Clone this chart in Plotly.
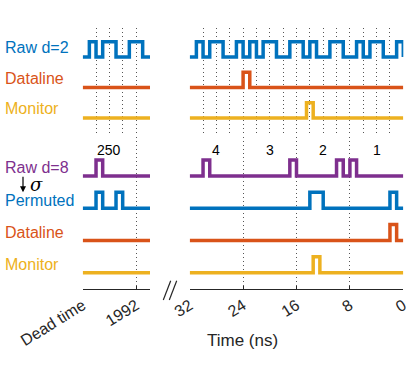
import plotly.graph_objects as go

W, H = 415, 370
FONT = "Liberation Sans, Arial, sans-serif"

blue = "#0072BD"
orange = "#D95319"
yellow = "#EDB120"
purple = "#7E2F8E"

# the two pieces of the broken time axis (ns, time runs right to left)
dead_range = [2000, 1989.9]
time_range = [32, 0]

# upper block: d=2, one pulse per 2 ns symbol -> which 1 ns bin holds it
raw2_dead_bins = [1, 1, 0, 1, 0]
raw2_time_bins = [1, 1, 0, 1, 1, 1, 0, 1, 0, 0, 1, 0, 1, 1, 0, 1]
dataline2_time = [(24, 23)]
monitor2_time = [(14.5, 13.5)]

# lower block: d=8, symbols 8 ns long
symbol_labels_dead = ["250"]
symbol_pos_dead = [1996]
symbol_labels_time = ["4", "3", "2", "1"]
symbol_pos_time = [28, 20, 12, 4]
raw8_dead = [(1998, 1997)]
raw8_time = [(30, 29), (17, 16), (10, 9), (8, 7)]
perm_dead = [(1998, 1997), (1995, 1994)]
perm_time = [(14, 12), (2, 1)]
dataline8_time = [(2, 1)]
monitor8_time = [(13.5, 12.5)]

top_labels = ["Raw d=2", "Dataline", "Monitor"]
top_colors = [blue, orange, yellow]
bottom_labels = ["Raw d=8", "Permuted", "Dataline", "Monitor"]
bottom_colors = [purple, blue, orange, yellow]

dead_ticks = [2000, 1992]
dead_ticktext = ["Dead time", "1992"]
time_ticks = [32, 24, 16, 8, 0]


def bins_to_pulses(bins, start):
    out = []
    for k, b in enumerate(bins):
        hi = start - 2 * k - b
        out.append((hi, hi - 1))
    return out


def step(pulses, xr, base, h=0.5):
    merged = []
    for hi, lo in sorted(pulses, reverse=True):
        if merged and merged[-1][1] == hi:
            merged[-1] = (merged[-1][0], lo)
        else:
            merged.append((hi, lo))
    xs, ys = [xr[0]], [base]
    for hi, lo in merged:
        xs += [hi, lo]
        ys += [base + h, base]
    xs.append(xr[1])
    ys.append(base)
    return xs, ys


fig = go.Figure()


def add(pulses, xr, base, color, xa, ya):
    xs, ys = step(pulses, xr, base)
    fig.add_trace(go.Scatter(x=xs, y=ys, mode="lines", line_shape="hv",
                             line=dict(color=color, width=3.5),
                             xaxis=xa, yaxis=ya, showlegend=False,
                             hoverinfo="skip"))


# upper block (y offsets 2,1,0)
add(bins_to_pulses(raw2_dead_bins, dead_range[0]), dead_range, 2, blue, "x", "y")
add([], dead_range, 1, orange, "x", "y")
add([], dead_range, 0, yellow, "x", "y")
add(bins_to_pulses(raw2_time_bins, time_range[0]), time_range, 2, blue, "x2", "y")
add(dataline2_time, time_range, 1, orange, "x2", "y")
add(monitor2_time, time_range, 0, yellow, "x2", "y")

# lower block (y offsets 3..0)
add(raw8_dead, dead_range, 3, purple, "x3", "y2")
add(perm_dead, dead_range, 2, blue, "x3", "y2")
add([], dead_range, 1, orange, "x3", "y2")
add([], dead_range, 0, yellow, "x3", "y2")
add(raw8_time, time_range, 3, purple, "x4", "y2")
add(perm_time, time_range, 2, blue, "x4", "y2")
add(dataline8_time, time_range, 1, orange, "x4", "y2")
add(monitor8_time, time_range, 0, yellow, "x4", "y2")

left_dom = [82.7 / W, 150 / W]
right_dom = [189.7 / W, 403.3 / W]
grid = dict(showgrid=True, griddash="1px,3px", gridcolor="#555", gridwidth=1,
            zeroline=False, automargin=False)

fig.update_layout(
    width=W, height=H,
    margin=dict(l=0, r=0, t=0, b=0),
    paper_bgcolor="white", plot_bgcolor="white",
    font=dict(family=FONT, size=16, color="#262626"),
    xaxis=dict(domain=left_dom, range=dead_range, anchor="y", dtick=2, tick0=0,
               showticklabels=False, **grid),
    xaxis2=dict(domain=right_dom, range=time_range, anchor="y", dtick=2, tick0=0,
                showticklabels=False, **grid),
    xaxis3=dict(domain=left_dom, range=dead_range, anchor="y2", tickmode="array",
                tickvals=dead_ticks, ticktext=dead_ticktext, tickangle=-32,
                showline=True, linecolor="#262626", linewidth=1,
                ticks="inside", ticklen=3, tickcolor="#262626", **grid),
    xaxis4=dict(domain=right_dom, range=time_range, anchor="y2", tickmode="array",
                tickvals=time_ticks, tickangle=-32,
                showline=True, linecolor="#262626", linewidth=1,
                ticks="inside", ticklen=3, tickcolor="#262626", **grid),
    yaxis=dict(domain=[(H - 133) / H, (H - 28) / H], range=[-0.49, 2.95],
               visible=False, automargin=False),
    yaxis2=dict(domain=[(H - 289) / H, (H - 137) / H], range=[-0.5, 4.21],
                visible=False, automargin=False),
)

# row labels
for i, (txt, col) in enumerate(zip(top_labels, top_colors)):
    fig.add_annotation(text=txt, x=3 / W, xref="paper", xanchor="left",
                       y=2 - i + 0.3, yref="y", yanchor="middle", showarrow=False,
                       font=dict(color=col, size=16))
for i, (txt, col) in enumerate(zip(bottom_labels, bottom_colors)):
    fig.add_annotation(text=txt, x=3 / W, xref="paper", xanchor="left",
                       y=3 - i + 0.25, yref="y2", yanchor="middle", showarrow=False,
                       font=dict(color=col, size=16))

# symbol numbers
for txt, pos in zip(symbol_labels_dead, symbol_pos_dead):
    fig.add_annotation(text=txt, x=pos, xref="x3", y=3.8, yref="y2",
                       showarrow=False, font=dict(size=14, color="black"))
for txt, pos in zip(symbol_labels_time, symbol_pos_time):
    fig.add_annotation(text=txt, x=pos, xref="x4", y=3.8, yref="y2",
                       showarrow=False, font=dict(size=14, color="black"))

# permutation arrow
fig.add_annotation(x=23 / W, xref="paper", y=2.5, yref="y2", ax=0, ay=-17,
                   text="", showarrow=True, arrowhead=2, arrowsize=1,
                   arrowwidth=1.2, arrowcolor="black")
fig.add_annotation(text="<i>σ</i>", x=28 / W, xref="paper", xanchor="left",
                   y=2.75, yref="y2", yanchor="middle", showarrow=False,
                   font=dict(size=18, color="black", family="DejaVu Serif"))

# axis break marks
for x0 in [163.3, 169.3]:
    fig.add_shape(type="line", xref="paper", yref="paper",
                  x0=x0 / W, y0=(H - 300) / H, x1=(x0 + 7.4) / W, y1=(H - 280.7) / H,
                  line=dict(color="#262626", width=1.2))

fig.add_annotation(text="Time (ns)", x=242.5 / W, xref="paper", xanchor="center",
                   y=(H - 340) / H, yref="paper", yanchor="middle",
                   showarrow=False, font=dict(size=17))

fig.write_html("out.html", config={"displayModeBar": False},
               post_script="document.body.style.margin='0';")
